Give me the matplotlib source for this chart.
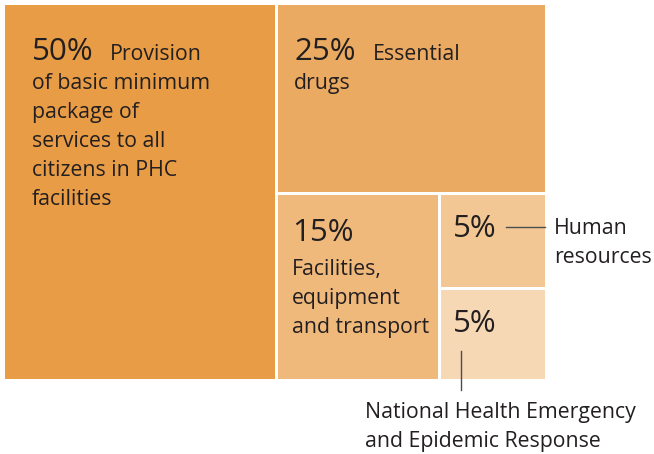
import matplotlib
matplotlib.use("Agg")
import matplotlib.pyplot as plt
from matplotlib.patches import Rectangle

# === Data ===
shares = [50, 25, 15, 5, 5]
pct_labels = ["50%", "25%", "15%", "5%", "5%"]
colors = ["#E89C45", "#EBAA62", "#F0B97C", "#F2C794", "#F7D8B4"]

plt.rcParams["font.family"] = ["Open Sans", "DejaVu Sans"]
TXT = "#231F20"

# === Layout of the treemap (slice and dice, in pixels) ===
X0, Y0, W, H, GAP = 5, 5, 540, 374, 3
STEP = 29  # line step in pixels


def layout(v):
    rects = []
    total = sum(v)
    w0 = W * v[0] / total
    rects.append((X0, Y0, w0, H))
    rx, rw = X0 + w0 + GAP, W - w0 - GAP
    rest = sum(v[1:])
    h1 = H * v[1] / rest
    rects.append((rx, Y0, rw, h1))
    ry, rh = Y0 + h1 + GAP, H - h1 - GAP
    rest2 = sum(v[2:])
    w2 = rw * v[2] / rest2
    rects.append((rx, ry, w2, rh))
    sx, sw = rx + w2 + GAP, rw - w2 - GAP
    rest3 = sum(v[3:])
    h3 = rh * v[3] / rest3
    rects.append((sx, ry, sw, h3))
    rects.append((sx, ry + h3 + GAP, sw, rh - h3 - GAP))
    return rects


def lines(ax, x, y, txt, size):
    for i, s in enumerate(txt.split("\n")):
        ax.text(x, y + i * STEP, s, fontsize=size, color=TXT, va="baseline")


fig = plt.figure(figsize=(6.54, 4.54), dpi=100)
ax = fig.add_axes([0, 0, 1, 1])
ax.set_xlim(0, 654)
ax.set_ylim(454, 0)
ax.axis("off")

rects = layout(shares)
for (x, y, w, h), c in zip(rects, colors):
    ax.add_patch(Rectangle((x, y), w, h, facecolor=c, edgecolor="none"))

big = 22.5
small = 15.3

# 50%
x, y, w, h = rects[0]
ax.text(x + 27, y + 55, pct_labels[0], fontsize=big, color=TXT, va="baseline")
ax.text(x + 105, y + 55, "Provision", fontsize=small, color=TXT, va="baseline")
lines(ax, x + 27, y + 84, "of basic minimum\npackage of\nservices to all\ncitizens in PHC\nfacilities", small)

# 25%
x, y, w, h = rects[1]
ax.text(x + 16, y + 55, pct_labels[1], fontsize=big, color=TXT, va="baseline")
ax.text(x + 95, y + 55, "Essential", fontsize=small, color=TXT, va="baseline")
ax.text(x + 16, y + 84, "drugs", fontsize=small, color=TXT, va="baseline")

# 15%
x, y, w, h = rects[2]
ax.text(x + 14, y + 46, pct_labels[2], fontsize=big, color=TXT, va="baseline")
lines(ax, x + 14, y + 80, "Facilities,\nequipment\nand transport", small)

# 5% human resources
x, y, w, h = rects[3]
ax.text(x + 12, y + 42, pct_labels[3], fontsize=big, color=TXT, va="baseline")
ax.plot([x + 65, x + 104], [y + 32, y + 32], color="#4D4D4F", lw=1, clip_on=False)
lines(ax, x + 113, y + 39, "Human\nresources", small)

# 5% emergency response
x, y, w, h = rects[4]
ax.text(x + 12, y + 42, pct_labels[4], fontsize=big, color=TXT, va="baseline")
ax.plot([x + 20, x + 20], [y + 61, y + 100], color="#4D4D4F", lw=1, clip_on=False)
lines(ax, 365, 418, "National Health Emergency\nand Epidemic Response", small)

fig.savefig("out.png", dpi=100)
